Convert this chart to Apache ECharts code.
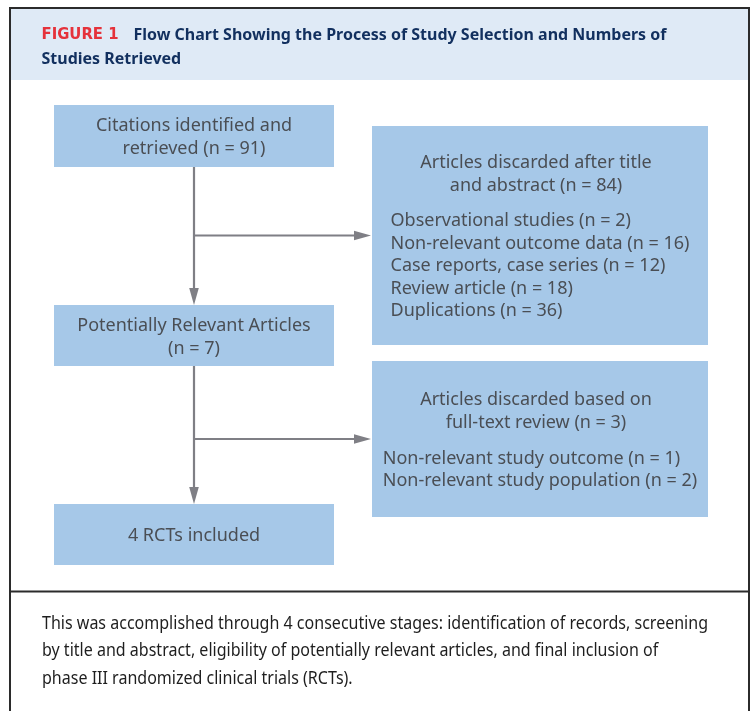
<!DOCTYPE html>
<html>
<head>
<meta charset="utf-8">
<script src="https://cdn.jsdelivr.net/npm/echarts@6/dist/echarts.min.js"></script>
<style>
html,body{margin:0;padding:0;background:#fff;}
#chart{width:753px;height:711px;}
</style>
</head>
<body>
<div id="chart"></div>
<script>
// ---------------- DATA ----------------
const figureLabel = 'FIGURE 1';
const titleLines = ['Flow Chart Showing the Process of Study Selection and Numbers of', 'Studies Retrieved'];
const stageNames = ['Citations identified and\nretrieved', 'Potentially Relevant Articles', 'RCTs included'];
const stageCounts = [91, 7, 4];
const stageFormats = ['{name} (n = {n})', '{name}\n(n = {n})', '{n} {name}'];
const screenHeading = 'Articles discarded after title\nand abstract';
const screenReasons = ['Observational studies', 'Non-relevant outcome data', 'Case reports, case series', 'Review article', 'Duplications'];
const screenCounts = [2, 16, 12, 18, 36];
const fullTextHeading = 'Articles discarded based on\nfull-text review';
const fullTextReasons = ['Non-relevant study outcome', 'Non-relevant study population'];
const fullTextCounts = [1, 2];
const captionLines = [
  'This was accomplished through 4 consecutive stages: identification of records, screening',
  'by title and abstract, eligibility of potentially relevant articles, and final inclusion of',
  'phase III randomized clinical trials (RCTs).'
];

// ---------------- LAYOUT / STYLE ----------------
const W = 753, H = 711;
const layout = {
  stageBoxes: [[54, 105, 334, 167], [54, 305, 334, 366], [54, 504, 334, 565]],
  exclBoxes: [[372, 126, 708, 345], [372, 361, 708, 517]],
  exclHeadY: [[161, 184], [398, 421]],
  exclListY: [219.5, 457],
  listStep: 22.5,
  lineH: 23
};
const TEXT_DY = 1.6;
const C = {
  box: '#a6c8e8', text: '#4a4e54', arrow: '#7f7f85', headerBg: '#dfeaf6',
  navy: '#12305f', red: '#e5323b', frame: '#2b2b2b', caption: '#1e1e1e'
};

// ---------------- FONT HELPERS ----------------
const mctx = document.createElement('canvas').getContext('2d');
function hasFont(f) {
  const s = 'abcdefghijklmnopqrstuvwxyzABCDEFGHIJ0123456789';
  let ok = false;
  ['monospace', 'serif'].forEach(function (g) {
    mctx.font = '72px ' + g; const a = mctx.measureText(s).width;
    mctx.font = '72px "' + f + '", ' + g; const b = mctx.measureText(s).width;
    if (Math.abs(a - b) > 0.5) ok = true;
  });
  return ok;
}
function pick(list) { for (const f of list) if (hasFont(f)) return f; return 'sans-serif'; }
function measure(text, weight, size, fam) { mctx.font = weight + ' ' + size + 'px "' + fam + '"'; return mctx.measureText(text).width; }

const FAM = pick(['Noto Sans', 'Open Sans', 'DejaVu Sans', 'Liberation Sans']);
const FAM_LABEL = pick(['DejaVu Sans', 'Noto Sans', 'Liberation Sans']);
// font sizes chosen to match cap heights; horizontal scale to match condensed widths
const boxSize = 17.6, capSize = 17.6, titleSize = 16.8, labelSize = 15;
const boxScale = 299 / measure('Non-relevant outcome data (n = 16)', 'normal', boxSize, FAM);
const capScale = 666 / measure(captionLines[0], 'normal', capSize, FAM);
const titleScale = 533 / measure(titleLines[0], 'bold', titleSize, FAM);
const labelScale = 77 / measure(figureLabel, 'bold', labelSize, FAM_LABEL);

function fmt(tpl, name, n) { return tpl.replace('{name}', name).replace('{n}', n); }
const sum = a => a.reduce((s, v) => s + v, 0);

const exclGroups = [
  { heading: screenHeading, reasons: screenReasons, counts: screenCounts },
  { heading: fullTextHeading, reasons: fullTextReasons, counts: fullTextCounts }
];

function stxt(x, y, text, scale, o) {
  return {
    type: 'text', x: x, y: y + TEXT_DY, scaleX: scale, scaleY: 1,
    style: Object.assign({ x: 0, y: 0, text: text, fill: C.text, fontFamily: FAM, fontSize: boxSize, align: 'center', verticalAlign: 'middle' }, o || {})
  };
}

const chart = echarts.init(document.getElementById('chart'), null, { renderer: 'canvas' });

const option = {
  animation: false,
  grid: { left: 0, right: 0, top: 0, bottom: 0, containLabel: false },
  xAxis: { type: 'value', min: 0, max: W, show: false },
  yAxis: { type: 'value', min: 0, max: H, inverse: true, show: false },
  graphic: [
    { type: 'rect', shape: { x: 10, y: 8, width: 739, height: 72 }, style: { fill: C.headerBg }, z: 1 },
    { type: 'rect', shape: { x: 10, y: 8, width: 739, height: 740 }, style: { fill: null, stroke: C.frame, lineWidth: 2 }, z: 5 },
    { type: 'line', shape: { x1: 10, y1: 591.5, x2: 749, y2: 591.5 }, style: { stroke: C.frame, lineWidth: 2 }, z: 5 },
    Object.assign(stxt(41.5, 34, figureLabel, labelScale, { align: 'left', fill: C.red, fontFamily: FAM_LABEL, fontWeight: 'bold', fontSize: labelSize }), { z: 6 }),
    Object.assign(stxt(133.5, 33.5, titleLines[0], titleScale, { align: 'left', fill: C.navy, fontWeight: 'bold', fontSize: titleSize }), { z: 6 }),
    Object.assign(stxt(41.5, 58, titleLines[1], titleScale, { align: 'left', fill: C.navy, fontWeight: 'bold', fontSize: titleSize }), { z: 6 })
  ].concat(captionLines.map(function (l, i) {
    return Object.assign(stxt(42, 622 + i * 27.5, l, capScale, { align: 'left', fill: C.caption, fontSize: capSize }), { z: 6 });
  })),
  series: [
    {
      type: 'custom', name: 'stages', coordinateSystem: 'cartesian2d', clip: false,
      data: stageCounts.map(function (n, i) { return [i, n]; }),
      renderItem: function (params, api) {
        const i = params.dataIndex;
        const b = layout.stageBoxes[i];
        const p0 = api.coord([b[0], b[1]]), p1 = api.coord([b[2], b[3]]);
        const text = fmt(stageFormats[i], stageNames[i], api.value(1));
        return {
          type: 'group', children: [
            { type: 'rect', shape: { x: p0[0], y: p0[1], width: p1[0] - p0[0], height: p1[1] - p0[1] }, style: { fill: C.box } },
            stxt((p0[0] + p1[0]) / 2, (p0[1] + p1[1]) / 2, text, boxScale, { lineHeight: layout.lineH })
          ]
        };
      }
    },
    {
      type: 'custom', name: 'exclusions', coordinateSystem: 'cartesian2d', clip: false,
      data: exclGroups.map(function (g, i) { return [i, sum(g.counts)]; }),
      renderItem: function (params, api) {
        const i = params.dataIndex;
        const g = exclGroups[i];
        const b = layout.exclBoxes[i];
        const p0 = api.coord([b[0], b[1]]), p1 = api.coord([b[2], b[3]]);
        const cx = (p0[0] + p1[0]) / 2;
        const headLines = (g.heading + ' (n = ' + api.value(1) + ')').split('\n');
        const items = g.reasons.map(function (r, k) { return r + ' (n = ' + g.counts[k] + ')'; });
        const maxW = boxScale * Math.max.apply(null, items.map(function (s) { return measure(s, 'normal', boxSize, FAM); }));
        const left = cx - maxW / 2;
        const children = [
          { type: 'rect', shape: { x: p0[0], y: p0[1], width: p1[0] - p0[0], height: p1[1] - p0[1] }, style: { fill: C.box } }
        ];
        headLines.forEach(function (l, k) {
          children.push(stxt(cx - 4, api.coord([0, layout.exclHeadY[i][k]])[1], l, boxScale));
        });
        items.forEach(function (s, k) {
          children.push(stxt(left, api.coord([0, layout.exclListY[i] + k * layout.listStep])[1], s, boxScale, { align: 'left' }));
        });
        return { type: 'group', children: children };
      }
    },
    {
      type: 'custom', name: 'arrows', coordinateSystem: 'cartesian2d', clip: false,
      data: [[0, 1], [1, 2]],
      renderItem: function (params, api) {
        const i = params.dataIndex;
        const from = layout.stageBoxes[api.value(0)], to = layout.stageBoxes[api.value(1)];
        const ex = layout.exclBoxes[i];
        const tx = (from[0] + from[2]) / 2;
        const by = (ex[1] + ex[3]) / 2;
        const a = api.coord([tx, from[3]]), t = api.coord([tx, to[1]]);
        const b0 = api.coord([tx, by]), b1 = api.coord([ex[0], by]);
        const L = 17, hw = 4.8;
        const st = { stroke: C.arrow, lineWidth: 2.2 };
        return {
          type: 'group', children: [
            { type: 'line', shape: { x1: a[0], y1: a[1], x2: t[0], y2: t[1] - L + 2 }, style: st },
            { type: 'polygon', shape: { points: [[t[0], t[1]], [t[0] - hw, t[1] - L], [t[0] + hw, t[1] - L]] }, style: { fill: C.arrow } },
            { type: 'line', shape: { x1: b0[0], y1: b0[1], x2: b1[0] - L + 2, y2: b1[1] }, style: st },
            { type: 'polygon', shape: { points: [[b1[0] - 1, b1[1]], [b1[0] - 1 - L, b1[1] - hw], [b1[0] - 1 - L, b1[1] + hw]] }, style: { fill: C.arrow } }
          ]
        };
      }
    }
  ]
};
chart.setOption(option);
</script>
</body>
</html>
